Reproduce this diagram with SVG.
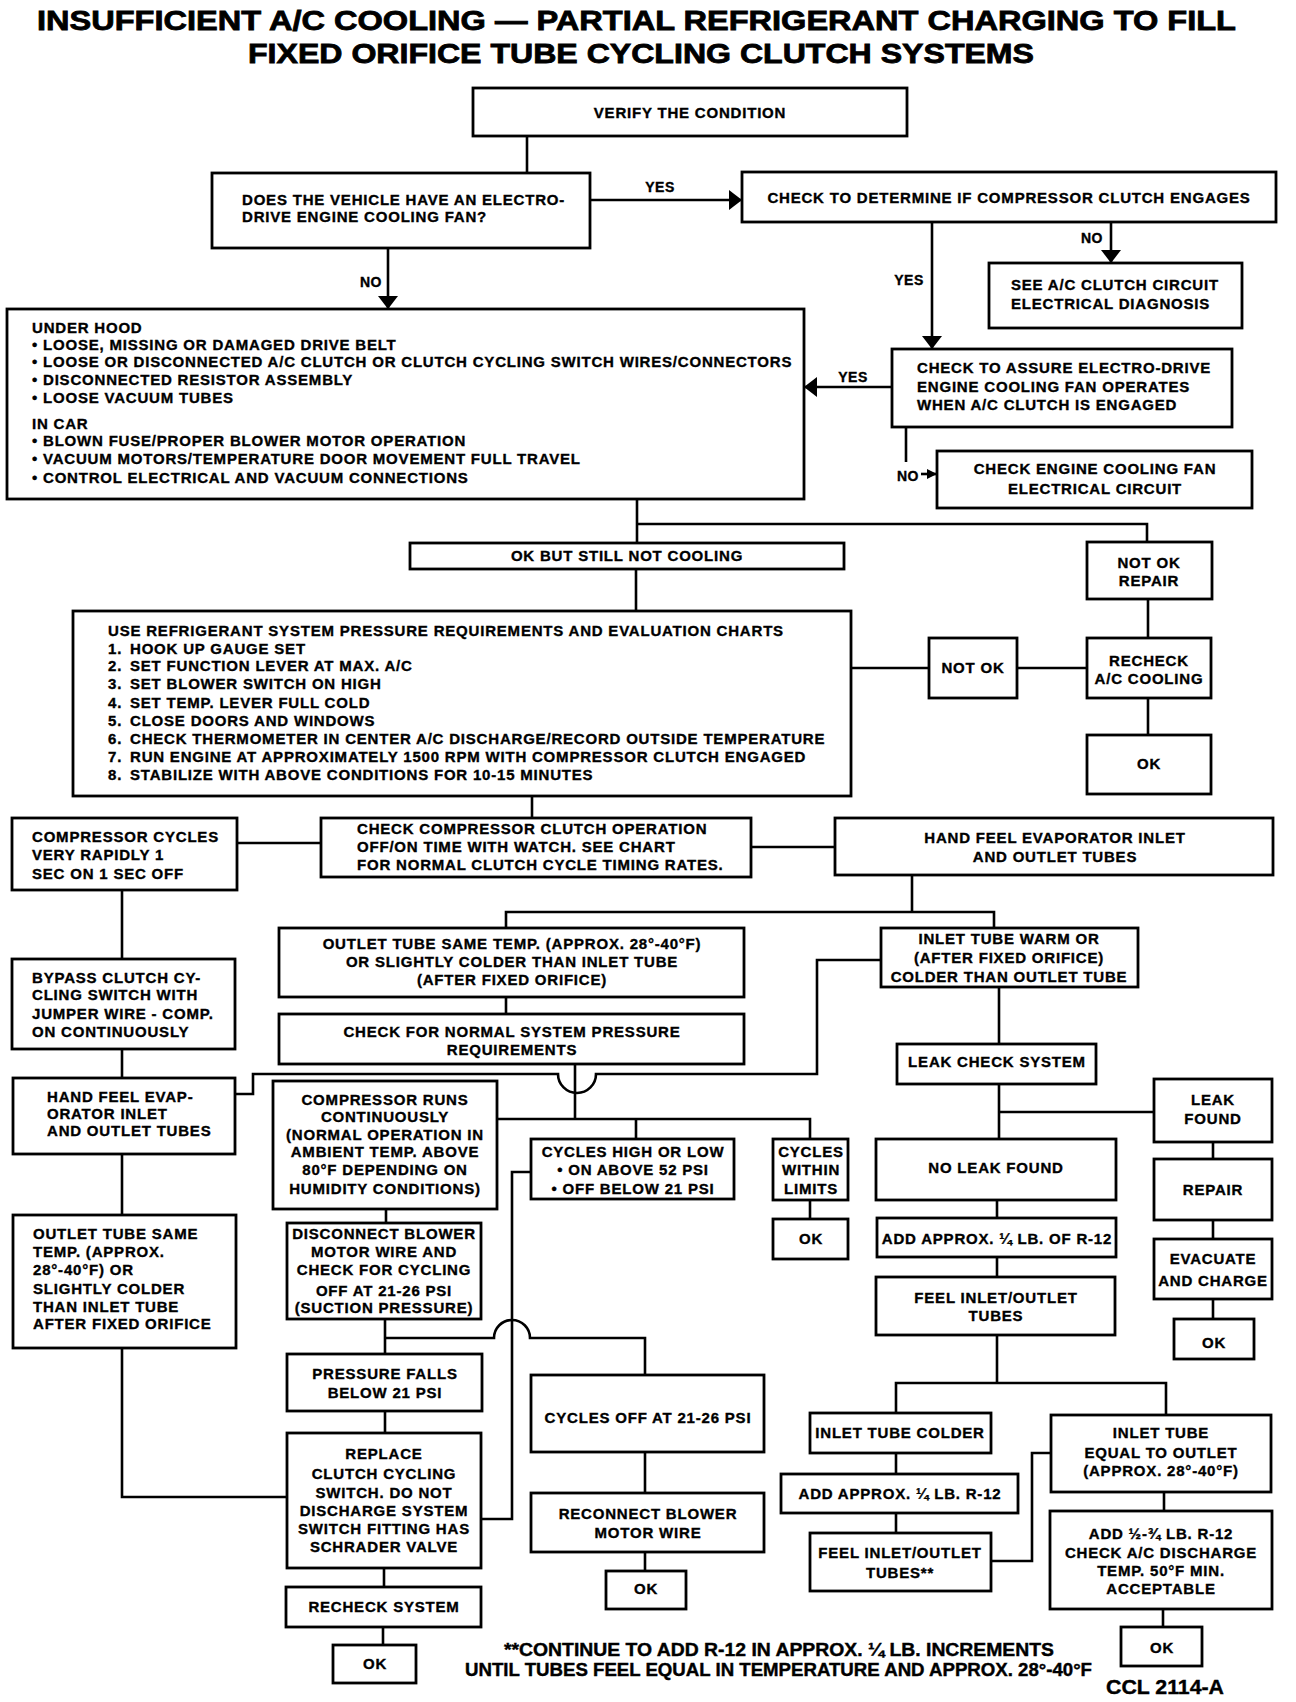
<svg xmlns="http://www.w3.org/2000/svg" width="1296" height="1702" viewBox="0 0 1296 1702">
<style>
.bg{fill:#fff}
.b{fill:#fff;stroke:#000;stroke-width:2.8}
.w{fill:none;stroke:#000;stroke-width:2.6}
.t{font-family:"Liberation Sans",Arial,Helvetica,sans-serif;font-weight:bold;font-size:15px;letter-spacing:0.8px;fill:#000;stroke:#000;stroke-width:0.35px}
.c{text-anchor:middle}
.lb{font-family:"Liberation Sans",Arial,Helvetica,sans-serif;font-weight:bold;font-size:14px;letter-spacing:0.5px;fill:#000;stroke:#000;stroke-width:0.35px;text-anchor:middle}
.ti{font-family:"Liberation Sans",Arial,Helvetica,sans-serif;font-weight:bold;font-size:27px;fill:#000;stroke:#000;stroke-width:0.8px}
.fn{font-family:"Liberation Sans",Arial,Helvetica,sans-serif;font-weight:bold;font-size:18px;fill:#000;stroke:#000;stroke-width:0.4px}
</style>
<defs>
<marker id="ah" viewBox="0 0 13 20" refX="13" refY="10" markerWidth="13" markerHeight="20" markerUnits="userSpaceOnUse" orient="auto"><path d="M0,0 L13,10 L0,20 z" fill="#000"/></marker>
<marker id="ahs" viewBox="0 0 10 10" refX="10" refY="5" markerWidth="10" markerHeight="10" markerUnits="userSpaceOnUse" orient="auto"><path d="M0,0 L10,5 L0,10 z" fill="#000"/></marker>
</defs>
<rect class="bg" x="0" y="0" width="1296" height="1702"/>

<g id="title">
<text class="ti" x="37" y="30" textLength="1199" lengthAdjust="spacingAndGlyphs">INSUFFICIENT A/C COOLING — PARTIAL REFRIGERANT CHARGING TO FILL</text>
<text class="ti" x="248" y="63" textLength="786" lengthAdjust="spacingAndGlyphs">FIXED ORIFICE TUBE CYCLING CLUTCH SYSTEMS</text>
</g>

<g id="connectors">
<path class="w" d="M527,136 V173"/>
<path class="w" d="M590,200 H742" marker-end="url(#ah)"/>
<path class="w" d="M388,248 V309" marker-end="url(#ah)"/>
<path class="w" d="M1111,222 V263" marker-end="url(#ah)"/>
<path class="w" d="M932,222 V349" marker-end="url(#ah)"/>
<path class="w" d="M892,387 H804" marker-end="url(#ah)"/>
<path class="w" d="M906,427 V462"/>
<path class="w" d="M921,474 H937" marker-end="url(#ahs)"/>
<path class="w" d="M637,499 V543 M637,524 H1147 V542"/>
<path class="w" d="M636,569 V611"/>
<path class="w" d="M851,668 H929 M1017,668 H1087"/>
<path class="w" d="M1148,599 V638 M1148,698 V735"/>
<path class="w" d="M532,796 V818"/>
<path class="w" d="M237,843 H321"/>
<path class="w" d="M751,847 H835"/>
<path class="w" d="M912,875 V912 M506,928 V912 H994 V928"/>
<path class="w" d="M506,997 V1014"/>
<path class="w" d="M575,1064 V1119 M497,1119 H810 V1139 M636,1119 V1139"/>
<path class="w" d="M235,1094 H253 V1074 H558 A19,19 0 0 0 596,1074 H817 V960 H881"/>
<path class="w" d="M122,890 V959 M122,1049 V1078 M122,1154 V1215 M122,1348 V1497 H287"/>
<path class="w" d="M386,1209 V1223"/>
<path class="w" d="M531,1172 H512 V1519 H481"/>
<path class="w" d="M385,1319 V1354 M385,1338 H494 A18,18 0 0 1 530,1338 H645 V1375"/>
<path class="w" d="M385,1411 V1433 M384,1568 V1587 M383,1627 V1645"/>
<path class="w" d="M645,1452 V1493 M645,1552 V1571"/>
<path class="w" d="M810,1200 V1219"/>
<path class="w" d="M999,987 V1044 M999,1084 V1139 M999,1112 H1154"/>
<path class="w" d="M1213,1142 V1159 M1213,1220 V1239 M1213,1299 V1319"/>
<path class="w" d="M997,1200 V1218 M997,1257 V1277 M997,1335 V1383 M896,1413 V1383 H1166 V1415"/>
<path class="w" d="M896,1453 V1474 M896,1513 V1533"/>
<path class="w" d="M991,1561 H1032 V1453 H1051"/>
<path class="w" d="M1164,1492 V1511 M1163,1609 V1627"/>
<text class="lb" x="660" y="192">YES</text>
<text class="lb" x="371" y="287">NO</text>
<text class="lb" x="909" y="285">YES</text>
<text class="lb" x="1092" y="243">NO</text>
<text class="lb" x="853" y="382">YES</text>
<text class="lb" x="908" y="481">NO</text>
</g>

<g id="n_verify"><rect class="b" x="473" y="88" width="434" height="48"/>
<text class="t c" x="690" y="118">VERIFY THE CONDITION</text></g>

<g id="n_does"><rect class="b" x="212" y="173" width="378" height="75"/>
<text class="t" x="242" y="205">DOES THE VEHICLE HAVE AN ELECTRO-</text>
<text class="t" x="242" y="222">DRIVE ENGINE COOLING FAN?</text></g>

<g id="n_check_engage"><rect class="b" x="742" y="172" width="534" height="50"/>
<text class="t c" x="1009" y="203">CHECK TO DETERMINE IF COMPRESSOR CLUTCH ENGAGES</text></g>

<g id="n_see_ac"><rect class="b" x="989" y="263" width="253" height="65"/>
<text class="t" x="1011" y="290">SEE A/C CLUTCH CIRCUIT</text>
<text class="t" x="1011" y="309">ELECTRICAL DIAGNOSIS</text></g>

<g id="n_assure"><rect class="b" x="892" y="349" width="340" height="78"/>
<text class="t" x="917" y="373">CHECK TO ASSURE ELECTRO-DRIVE</text>
<text class="t" x="917" y="392">ENGINE COOLING FAN OPERATES</text>
<text class="t" x="917" y="410">WHEN A/C CLUTCH IS ENGAGED</text></g>

<g id="n_underhood"><rect class="b" x="7" y="309" width="797" height="190"/>
<text class="t" x="32" y="333">UNDER HOOD</text>
<text class="t" x="32" y="350">• LOOSE, MISSING OR DAMAGED DRIVE BELT</text>
<text class="t" x="32" y="367">• LOOSE OR DISCONNECTED A/C CLUTCH OR CLUTCH CYCLING SWITCH WIRES/CONNECTORS</text>
<text class="t" x="32" y="385">• DISCONNECTED RESISTOR ASSEMBLY</text>
<text class="t" x="32" y="403">• LOOSE VACUUM TUBES</text>
<text class="t" x="32" y="429">IN CAR</text>
<text class="t" x="32" y="446">• BLOWN FUSE/PROPER BLOWER MOTOR OPERATION</text>
<text class="t" x="32" y="464">• VACUUM MOTORS/TEMPERATURE DOOR MOVEMENT FULL TRAVEL</text>
<text class="t" x="32" y="483">• CONTROL ELECTRICAL AND VACUUM CONNECTIONS</text></g>

<g id="n_fan_circuit"><rect class="b" x="937" y="451" width="315" height="57"/>
<text class="t c" x="1095" y="474">CHECK ENGINE COOLING FAN</text>
<text class="t c" x="1095" y="494">ELECTRICAL  CIRCUIT</text></g>

<g id="n_okbut"><rect class="b" x="410" y="543" width="434" height="26"/>
<text class="t c" x="627" y="561">OK BUT STILL NOT COOLING</text></g>

<g id="n_notok_repair"><rect class="b" x="1087" y="542" width="125" height="57"/>
<text class="t c" x="1149" y="568">NOT OK</text>
<text class="t c" x="1149" y="586">REPAIR</text></g>

<g id="n_list"><rect class="b" x="73" y="611" width="778" height="185"/>
<text class="t" x="108" y="636">USE REFRIGERANT SYSTEM PRESSURE REQUIREMENTS AND EVALUATION CHARTS</text>
<text class="t" x="108" y="654">1.</text><text class="t" x="130" y="654">HOOK UP GAUGE SET</text>
<text class="t" x="108" y="671">2.</text><text class="t" x="130" y="671">SET FUNCTION LEVER AT MAX. A/C</text>
<text class="t" x="108" y="689">3.</text><text class="t" x="130" y="689">SET BLOWER SWITCH ON HIGH</text>
<text class="t" x="108" y="708">4.</text><text class="t" x="130" y="708">SET TEMP. LEVER FULL COLD</text>
<text class="t" x="108" y="726">5.</text><text class="t" x="130" y="726">CLOSE DOORS AND WINDOWS</text>
<text class="t" x="108" y="744">6.</text><text class="t" x="130" y="744">CHECK THERMOMETER IN CENTER A/C DISCHARGE/RECORD OUTSIDE TEMPERATURE</text>
<text class="t" x="108" y="762">7.</text><text class="t" x="130" y="762">RUN ENGINE AT APPROXIMATELY 1500 RPM WITH COMPRESSOR CLUTCH ENGAGED</text>
<text class="t" x="108" y="780">8.</text><text class="t" x="130" y="780">STABILIZE WITH ABOVE CONDITIONS FOR 10-15 MINUTES</text></g>

<g id="n_notok"><rect class="b" x="929" y="638" width="88" height="60"/>
<text class="t c" x="973" y="673">NOT OK</text></g>

<g id="n_recheck_ac"><rect class="b" x="1087" y="638" width="124" height="60"/>
<text class="t c" x="1149" y="666">RECHECK</text>
<text class="t c" x="1149" y="684">A/C COOLING</text></g>

<g id="n_ok1"><rect class="b" x="1087" y="735" width="124" height="59"/>
<text class="t c" x="1149" y="769">OK</text></g>

<g id="n_comp_cycles"><rect class="b" x="12" y="818" width="225" height="72"/>
<text class="t" x="32" y="842">COMPRESSOR CYCLES</text>
<text class="t" x="32" y="860">VERY RAPIDLY 1</text>
<text class="t" x="32" y="879">SEC ON 1 SEC OFF</text></g>

<g id="n_check_clutch"><rect class="b" x="321" y="818" width="430" height="59"/>
<text class="t" x="357" y="834">CHECK COMPRESSOR CLUTCH OPERATION</text>
<text class="t" x="357" y="852">OFF/ON TIME WITH WATCH. SEE CHART</text>
<text class="t" x="357" y="870">FOR NORMAL CLUTCH CYCLE TIMING RATES.</text></g>

<g id="n_hand_feel"><rect class="b" x="835" y="818" width="438" height="57"/>
<text class="t c" x="1055" y="843">HAND FEEL EVAPORATOR INLET</text>
<text class="t c" x="1055" y="862">AND OUTLET TUBES</text></g>

<g id="n_outlet_same"><rect class="b" x="279" y="928" width="465" height="69"/>
<text class="t c" x="512" y="949">OUTLET TUBE SAME TEMP. (APPROX. 28°-40°F)</text>
<text class="t c" x="512" y="967">OR SLIGHTLY COLDER THAN INLET TUBE</text>
<text class="t c" x="512" y="985">(AFTER FIXED ORIFICE)</text></g>

<g id="n_check_normal"><rect class="b" x="279" y="1014" width="465" height="50"/>
<text class="t c" x="512" y="1037">CHECK FOR NORMAL SYSTEM PRESSURE</text>
<text class="t c" x="512" y="1055">REQUIREMENTS</text></g>

<g id="n_inlet_warm"><rect class="b" x="881" y="928" width="257" height="59"/>
<text class="t c" x="1009" y="944">INLET TUBE WARM OR</text>
<text class="t c" x="1009" y="963">(AFTER FIXED ORIFICE)</text>
<text class="t c" x="1009" y="982">COLDER THAN OUTLET TUBE</text></g>

<g id="n_bypass"><rect class="b" x="12" y="959" width="223" height="90"/>
<text class="t" x="32" y="983">BYPASS CLUTCH CY-</text>
<text class="t" x="32" y="1000">CLING SWITCH WITH</text>
<text class="t" x="32" y="1019">JUMPER WIRE - COMP.</text>
<text class="t" x="32" y="1037">ON CONTINUOUSLY</text></g>

<g id="n_hand_feel_evap"><rect class="b" x="13" y="1078" width="222" height="76"/>
<text class="t" x="47" y="1102">HAND FEEL EVAP-</text>
<text class="t" x="47" y="1119">ORATOR INLET</text>
<text class="t" x="47" y="1136">AND OUTLET TUBES</text></g>

<g id="n_comp_runs"><rect class="b" x="273" y="1081" width="224" height="128"/>
<text class="t c" x="385" y="1105">COMPRESSOR RUNS</text>
<text class="t c" x="385" y="1122">CONTINUOUSLY</text>
<text class="t c" x="385" y="1140">(NORMAL OPERATION IN</text>
<text class="t c" x="385" y="1157">AMBIENT TEMP. ABOVE</text>
<text class="t c" x="385" y="1175">80°F DEPENDING ON</text>
<text class="t c" x="385" y="1194">HUMIDITY CONDITIONS)</text></g>

<g id="n_cycles_hilo"><rect class="b" x="531" y="1139" width="203" height="60"/>
<text class="t c" x="633" y="1157">CYCLES HIGH OR LOW</text>
<text class="t c" x="633" y="1175">• ON ABOVE 52 PSI</text>
<text class="t c" x="633" y="1194">• OFF BELOW 21 PSI</text></g>

<g id="n_cycles_within"><rect class="b" x="773" y="1139" width="75" height="61"/>
<text class="t c" x="811" y="1157">CYCLES</text>
<text class="t c" x="811" y="1175">WITHIN</text>
<text class="t c" x="811" y="1194">LIMITS</text></g>

<g id="n_ok2"><rect class="b" x="773" y="1219" width="75" height="40"/>
<text class="t c" x="811" y="1244">OK</text></g>

<g id="n_leak_check"><rect class="b" x="897" y="1044" width="199" height="40"/>
<text class="t c" x="997" y="1067">LEAK CHECK SYSTEM</text></g>

<g id="n_leak_found"><rect class="b" x="1154" y="1079" width="118" height="63"/>
<text class="t c" x="1213" y="1105">LEAK</text>
<text class="t c" x="1213" y="1124">FOUND</text></g>

<g id="n_no_leak"><rect class="b" x="876" y="1139" width="240" height="61"/>
<text class="t c" x="996" y="1173">NO LEAK FOUND</text></g>

<g id="n_repair"><rect class="b" x="1154" y="1159" width="118" height="61"/>
<text class="t c" x="1213" y="1195">REPAIR</text></g>

<g id="n_add_quarter"><rect class="b" x="877" y="1218" width="239" height="39"/>
<text class="t c" x="997" y="1244">ADD APPROX. ¼ LB. OF R-12</text></g>

<g id="n_evacuate"><rect class="b" x="1154" y="1239" width="118" height="60"/>
<text class="t c" x="1213" y="1264">EVACUATE</text>
<text class="t c" x="1213" y="1286">AND CHARGE</text></g>

<g id="n_feel_tubes"><rect class="b" x="876" y="1277" width="239" height="58"/>
<text class="t c" x="996" y="1303">FEEL INLET/OUTLET</text>
<text class="t c" x="996" y="1321">TUBES</text></g>

<g id="n_ok3"><rect class="b" x="1174" y="1319" width="80" height="40"/>
<text class="t c" x="1214" y="1348">OK</text></g>

<g id="n_outlet_left"><rect class="b" x="13" y="1215" width="223" height="133"/>
<text class="t" x="33" y="1239">OUTLET TUBE SAME</text>
<text class="t" x="33" y="1257">TEMP. (APPROX.</text>
<text class="t" x="33" y="1275">28°-40°F) OR</text>
<text class="t" x="33" y="1294">SLIGHTLY COLDER</text>
<text class="t" x="33" y="1312">THAN INLET TUBE</text>
<text class="t" x="33" y="1329">AFTER FIXED ORIFICE</text></g>

<g id="n_disconnect"><rect class="b" x="287" y="1223" width="194" height="96"/>
<text class="t c" x="384" y="1239">DISCONNECT BLOWER</text>
<text class="t c" x="384" y="1257">MOTOR WIRE AND</text>
<text class="t c" x="384" y="1275">CHECK FOR CYCLING</text>
<text class="t c" x="384" y="1296">OFF AT 21-26 PSI</text>
<text class="t c" x="384" y="1313">(SUCTION PRESSURE)</text></g>

<g id="n_pressure_falls"><rect class="b" x="287" y="1354" width="195" height="57"/>
<text class="t c" x="385" y="1379">PRESSURE FALLS</text>
<text class="t c" x="385" y="1398">BELOW 21 PSI</text></g>

<g id="n_replace"><rect class="b" x="287" y="1433" width="194" height="135"/>
<text class="t c" x="384" y="1459">REPLACE</text>
<text class="t c" x="384" y="1479">CLUTCH CYCLING</text>
<text class="t c" x="384" y="1498">SWITCH. DO NOT</text>
<text class="t c" x="384" y="1516">DISCHARGE SYSTEM</text>
<text class="t c" x="384" y="1534">SWITCH FITTING HAS</text>
<text class="t c" x="384" y="1552">SCHRADER VALVE</text></g>

<g id="n_recheck_sys"><rect class="b" x="286" y="1587" width="195" height="40"/>
<text class="t c" x="384" y="1612">RECHECK SYSTEM</text></g>

<g id="n_ok4"><rect class="b" x="333" y="1645" width="83" height="38"/>
<text class="t c" x="375" y="1669">OK</text></g>

<g id="n_cycles_off"><rect class="b" x="531" y="1375" width="233" height="77"/>
<text class="t c" x="648" y="1423">CYCLES OFF AT 21-26 PSI</text></g>

<g id="n_reconnect"><rect class="b" x="531" y="1493" width="233" height="59"/>
<text class="t c" x="648" y="1519">RECONNECT BLOWER</text>
<text class="t c" x="648" y="1538">MOTOR WIRE</text></g>

<g id="n_ok5"><rect class="b" x="606" y="1571" width="80" height="38"/>
<text class="t c" x="646" y="1594">OK</text></g>

<g id="n_inlet_colder"><rect class="b" x="810" y="1413" width="181" height="40"/>
<text class="t c" x="900" y="1438">INLET TUBE COLDER</text></g>

<g id="n_add_quarter2"><rect class="b" x="781" y="1474" width="237" height="39"/>
<text class="t c" x="900" y="1499">ADD APPROX. ¼ LB. R-12</text></g>

<g id="n_feel_tubes2"><rect class="b" x="810" y="1533" width="181" height="58"/>
<text class="t c" x="900" y="1558">FEEL INLET/OUTLET</text>
<text class="t c" x="900" y="1578">TUBES**</text></g>

<g id="n_inlet_equal"><rect class="b" x="1051" y="1415" width="220" height="77"/>
<text class="t c" x="1161" y="1438">INLET TUBE</text>
<text class="t c" x="1161" y="1458">EQUAL TO OUTLET</text>
<text class="t c" x="1161" y="1476">(APPROX. 28°-40°F)</text></g>

<g id="n_add_half"><rect class="b" x="1050" y="1511" width="222" height="98"/>
<text class="t c" x="1161" y="1539">ADD ½-¾ LB. R-12</text>
<text class="t c" x="1161" y="1558">CHECK A/C DISCHARGE</text>
<text class="t c" x="1161" y="1576">TEMP. 50°F MIN.</text>
<text class="t c" x="1161" y="1594">ACCEPTABLE</text></g>

<g id="n_ok6"><rect class="b" x="1121" y="1627" width="81" height="39"/>
<text class="t c" x="1162" y="1653">OK</text></g>

<g id="footnote">
<text class="fn" x="504" y="1656" textLength="550" lengthAdjust="spacingAndGlyphs">**CONTINUE TO ADD R-12 IN APPROX. ¼ LB. INCREMENTS</text>
<text class="fn" x="465" y="1676" textLength="627" lengthAdjust="spacingAndGlyphs">UNTIL TUBES FEEL EQUAL IN TEMPERATURE AND APPROX. 28°-40°F</text>
</g>
<g id="code">
<text class="fn" x="1106" y="1694" style="font-size:21px" textLength="118" lengthAdjust="spacingAndGlyphs">CCL 2114-A</text>
</g>
</svg>
